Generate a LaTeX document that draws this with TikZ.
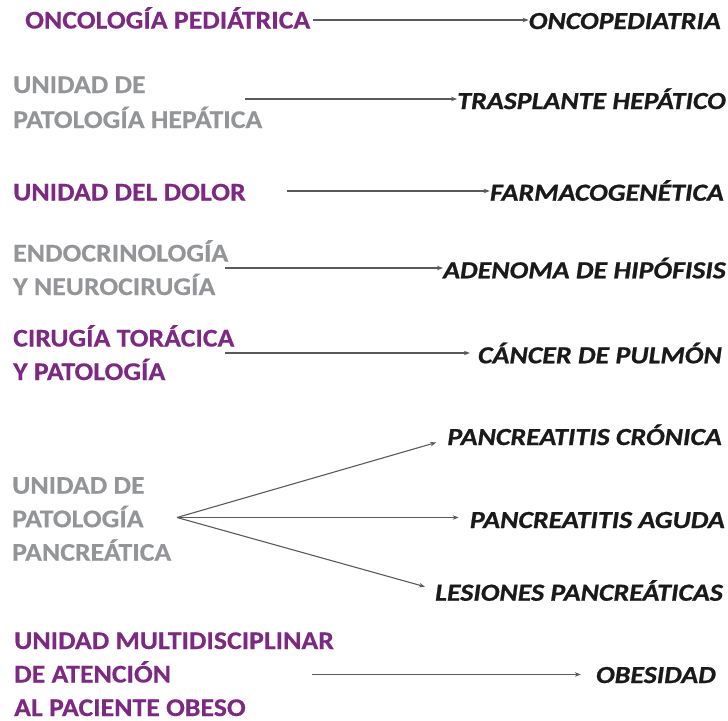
\documentclass[tikz,border=0pt]{standalone}
\usepackage{fontspec}
\setmainfont{Carlito}
\newfontfamily\lfont[FakeStretch=1.09,FakeBold=0.4]{Carlito}
\newfontfamily\rfont[FakeStretch=1.14,FakeBold=0.8]{Carlito}
\usetikzlibrary{arrows.meta,calc}
\definecolor{purp}{HTML}{7D2882}
\definecolor{grayt}{HTML}{939598}
\definecolor{arr}{HTML}{5A5A5A}
\definecolor{dark}{HTML}{1A1A1A}
\tikzset{
  src/.style={anchor=base west, inner sep=0pt, align=left, font=\lfont\fontsize{25.5}{33.5}\selectfont\bfseries},
  purpsrc/.style={src, text=purp},
  graysrc/.style={src, text=grayt},
  tgt/.style={anchor=base east, inner sep=0pt, text=dark, font=\rfont\fontsize{24.5}{25}\selectfont\bfseries\itshape},
  link/.style={draw=arr, line width=1.1pt, -{Stealth[length=6pt,width=4.5pt]}},
}
\begin{document}
\begin{tikzpicture}[x=1pt,y=-1pt]
\useasboundingbox (0,0) rectangle (728,720);
% sources
\node[purpsrc] (s1) at (25,28.5) {ONCOLOGÍA PEDIÁTRICA};
\node[graysrc, font=\lfont\fontsize{25.5}{35}\selectfont\bfseries] (s2) at (13,128) {UNIDAD DE\\PATOLOGÍA HEPÁTICA};
\node[purpsrc] (s3) at (13,200.5) {UNIDAD DEL DOLOR};
\node[graysrc] (s4) at (13,295) {ENDOCRINOLOGÍA\\Y NEUROCIRUGÍA};
\node[purpsrc] (s5) at (13,380) {CIRUGÍA TORÁCICA\\Y PATOLOGÍA};
\node[graysrc] (s6) at (12,560.7) {UNIDAD DE\\PATOLOGÍA\\PANCREÁTICA};
\node[purpsrc] (s7) at (14,716) {UNIDAD MULTIDISCIPLINAR\\DE ATENCIÓN\\AL PACIENTE OBESO};
% targets
\node[tgt] (t1) at (721,29) {ONCOPEDIATRIA};
\node[tgt] (t2) at (726,109) {TRASPLANTE HEPÁTICO};
\node[tgt] (t3) at (724,200.7) {FARMACOGENÉTICA};
\node[tgt] (t4) at (726,278.3) {ADENOMA DE HIPÓFISIS};
\node[tgt] (t5) at (722,363.3) {CÁNCER DE PULMÓN};
\node[tgt] (t6a) at (722,445) {PANCREATITIS CRÓNICA};
\node[tgt] (t6b) at (725,528) {PANCREATITIS AGUDA};
\node[tgt] (t6c) at (723,600.7) {LESIONES PANCREÁTICAS};
\node[tgt] (t7) at (716,683) {OBESIDAD};
% connector start points
\coordinate (c1) at (313,20);
\coordinate (c2) at (245,99);
\coordinate (c3) at (287,191);
\coordinate (c4) at (225,268);
\coordinate (c5) at (225,353);
\coordinate (c6) at (177,517.5);
\coordinate (c7) at (311.5,674.5);
% connectors
\draw[link] (c1) -- (c1 -| t1.west);
\draw[link] (c2) -- (c2 -| t2.west);
\draw[link] (c3) -- (c3 -| t3.west);
\draw[link] (c4) -- (c4 -| t4.west);
\draw[link, shorten >=8pt] (c5) -- (c5 -| t5.west);
\draw[link] (c6) -- ($(t6a.base west)+(-11,-2.5)$);
\draw[link, shorten >=11pt] (c6) -- (c6 -| t6b.west);
\draw[link] (c6) -- ($(t6c.base west)+(-10,-14)$);
\draw[link, shorten >=15pt] (c7) -- (c7 -| t7.west);
\end{tikzpicture}
\end{document}
